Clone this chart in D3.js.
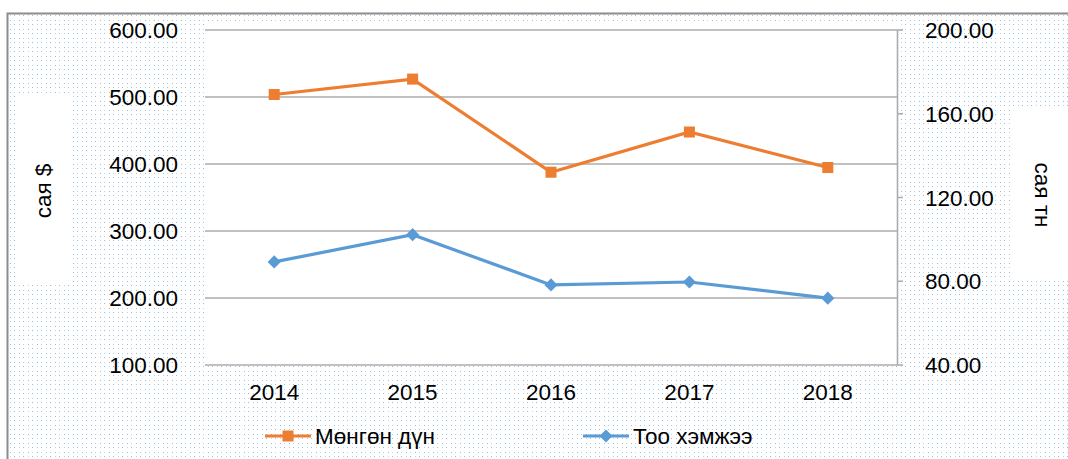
<!DOCTYPE html>
<html>
<head>
<meta charset="utf-8">
<script src="https://cdn.jsdelivr.net/npm/d3@7"></script>
<style>
  body { margin: 0; background: #fff; }
  text { font-family: "Liberation Sans", Arial, sans-serif; fill: #000; }
</style>
</head>
<body>
<div id="chart"></div>
<script>
var years = ["2014", "2015", "2016", "2017", "2018"];
var amount = [503, 526, 387, 447, 394];      // Мөнгөн дүн, сая $
var quantity = [89, 102, 78, 79.4, 71.7];    // Тоо хэмжээ, сая тн
var leftTicks = [100, 200, 300, 400, 500, 600];
var rightTicks = [40, 80, 120, 160, 200];
var seriesNames = ["Мөнгөн дүн", "Тоо хэмжээ"];

var svgWidth = 1068;
var svgHeight = 459;

var margin = { top: 29.5, bottom: 94.5, right: 171, left: 205 };
var width = svgWidth - margin.left - margin.right;
var height = svgHeight - margin.top - margin.bottom;

var orange = "#ED7D31";
var blue = "#5B9BD5";

var svg = d3.select("#chart")
  .append("svg")
  .attr("width", svgWidth)
  .attr("height", svgHeight);

// dotted chart background
var defs = svg.append("defs");
var pat = defs.append("pattern")
  .attr("id", "dots")
  .attr("patternUnits", "userSpaceOnUse")
  .attr("width", 9)
  .attr("height", 9);
[[1, 2], [5, 2], [1, 6], [5, 6]].forEach(function(p, i) {
  pat.append("rect")
    .attr("x", p[0]).attr("y", p[1])
    .attr("width", 1).attr("height", 1)
    .attr("fill", i % 3 == 0 ? "#8dbae6" : "#bcd5ef");
});

svg.append("rect")
  .attr("x", 7.5).attr("y", 13.5)
  .attr("width", 1100).attr("height", 500)
  .attr("fill", "url(#dots)")
  .attr("stroke", "#8c8c8c")
  .attr("stroke-width", 2);

// white boxes behind plot area and axis titles
svg.append("rect")
  .attr("x", margin.left).attr("y", 23)
  .attr("width", width).attr("height", 342)
  .attr("fill", "#fff");
svg.append("rect")
  .attr("x", 17).attr("y", 95)
  .attr("width", 53).attr("height", 190)
  .attr("fill", "#fff");
svg.append("rect")
  .attr("x", 1010).attr("y", 108)
  .attr("width", 70).attr("height", 169)
  .attr("fill", "#fff");

var chartGroup = svg.append("g")
  .attr("transform", `translate(${margin.left}, ${margin.top})`);

var xScale = d3.scaleBand()
  .domain(years)
  .range([0, width]);

var yLeft = d3.scaleLinear()
  .domain([100, 600])
  .range([height, 0]);

var yRight = d3.scaleLinear()
  .domain([40, 200])
  .range([height, 0]);

// gridlines
chartGroup.append("g")
  .attr("class", "grid")
  .call(d3.axisLeft(yLeft).tickValues(leftTicks).tickSize(-width).tickFormat(""))
  .call(g => g.select(".domain").remove())
  .call(g => g.selectAll("line").attr("stroke", "#adadad").attr("stroke-width", 1.6));

// left axis labels
chartGroup.append("g")
  .call(d3.axisLeft(yLeft).tickValues(leftTicks).tickSize(0).tickPadding(27).tickFormat(d3.format(".2f")))
  .call(g => g.select(".domain").remove())
  .call(g => g.selectAll("text").style("font-size", "22.5px").attr("dy", "0.36em"));

// right axis
chartGroup.append("g")
  .attr("transform", `translate(${width}, 0)`)
  .call(d3.axisRight(yRight).tickValues(rightTicks).tickSize(6).tickSizeOuter(0).tickPadding(22).tickFormat(d3.format(".2f")))
  .call(g => g.select(".domain").attr("stroke", "#adadad").attr("stroke-width", 1.6))
  .call(g => g.selectAll("line").attr("stroke", "#adadad").attr("stroke-width", 1.6))
  .call(g => g.selectAll("text").style("font-size", "22.5px").attr("dy", "0.36em"));

// bottom axis labels
chartGroup.append("g")
  .attr("transform", `translate(0, ${height})`)
  .call(d3.axisBottom(xScale).tickSize(0).tickPadding(20))
  .call(g => g.select(".domain").remove())
  .call(g => g.selectAll("text").style("font-size", "22.5px"));

// axis titles
svg.append("text")
  .attr("transform", "translate(51, 191) rotate(-90)")
  .attr("text-anchor", "middle")
  .style("font-size", "22.5px")
  .text("сая $");

svg.append("text")
  .attr("transform", "translate(1035, 195) rotate(90)")
  .attr("text-anchor", "middle")
  .style("font-size", "22.5px")
  .text("сая тн");

var cx = d => xScale(d) + xScale.bandwidth() / 2;

// amount line (left axis)
var amountLine = d3.line()
  .x((d, i) => cx(years[i]))
  .y(d => yLeft(d));

chartGroup.append("path")
  .datum(amount)
  .attr("d", amountLine)
  .attr("fill", "none")
  .attr("stroke", orange)
  .attr("stroke-width", 3.2);

chartGroup.selectAll(".sq")
  .data(amount)
  .enter()
  .append("rect")
  .attr("class", "sq")
  .attr("x", (d, i) => cx(years[i]) - 5.5)
  .attr("y", d => yLeft(d) - 5.5)
  .attr("width", 11)
  .attr("height", 11)
  .attr("fill", orange);

// quantity line (right axis)
var qtyLine = d3.line()
  .x((d, i) => cx(years[i]))
  .y(d => yRight(d));

chartGroup.append("path")
  .datum(quantity)
  .attr("d", qtyLine)
  .attr("fill", "none")
  .attr("stroke", blue)
  .attr("stroke-width", 3.2);

var diamond = d3.symbol().type(d3.symbolDiamond2).size(110);

chartGroup.selectAll(".dm")
  .data(quantity)
  .enter()
  .append("path")
  .attr("class", "dm")
  .attr("d", diamond)
  .attr("transform", (d, i) => `translate(${cx(years[i])}, ${yRight(d)})`)
  .attr("fill", blue);

// legend
var legend = svg.append("g").attr("transform", "translate(0, 436)");
var legendItems = [
  { name: seriesNames[0], color: orange, x: 265, marker: "square" },
  { name: seriesNames[1], color: blue, x: 583, marker: "diamond" }
];
legendItems.forEach(function(item) {
  var g = legend.append("g").attr("transform", `translate(${item.x}, 0)`);
  g.append("line")
    .attr("x1", 0).attr("x2", 46)
    .attr("y1", 0).attr("y2", 0)
    .attr("stroke", item.color)
    .attr("stroke-width", 3.2);
  if (item.marker == "square") {
    g.append("rect")
      .attr("x", 23 - 5.5).attr("y", -5.5)
      .attr("width", 11).attr("height", 11)
      .attr("fill", item.color);
  } else {
    g.append("path")
      .attr("d", diamond)
      .attr("transform", "translate(23, 0)")
      .attr("fill", item.color);
  }
  g.append("text")
    .attr("x", 50)
    .attr("dy", "0.36em")
    .style("font-size", "22.5px")
    .text(item.name);
});
</script>
</body>
</html>
